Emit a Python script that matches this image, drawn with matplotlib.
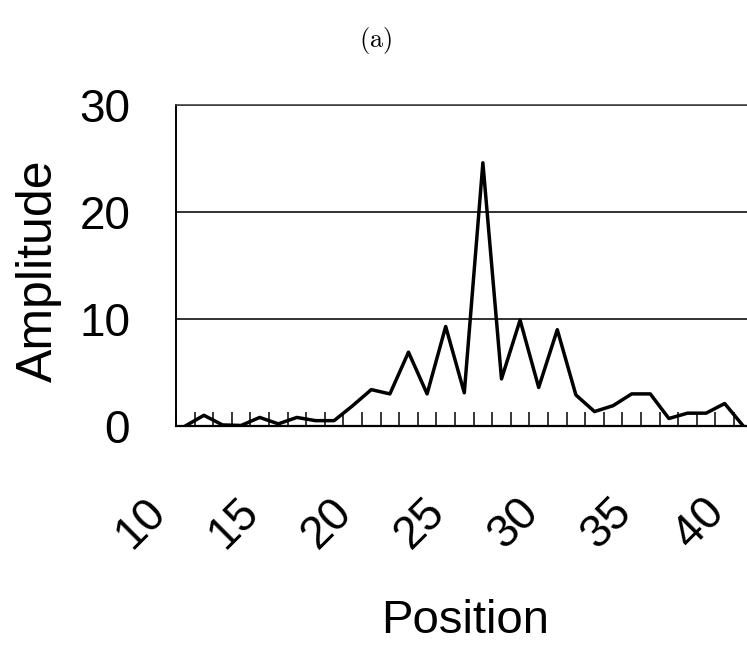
import numpy as np
import matplotlib
matplotlib.use("Agg")
import matplotlib.pyplot as plt
from matplotlib.transforms import ScaledTranslation

plt.rcParams['font.family'] = ['Liberation Sans', 'DejaVu Sans']
plt.rcParams['mathtext.fontset'] = 'cm'

# posiciones (puntos a mitad de cada division)
posicion = [10.5, 11.5, 12.5, 13.5, 14.5, 15.5, 16.5, 17.5, 18.5, 19.5,
            20.5, 21.5, 22.5, 23.5, 24.5, 25.5, 26.5, 27.5, 28.5, 29.5,
            30.5, 31.5, 32.5, 33.5, 34.5, 35.5, 36.5, 37.5, 38.5, 39.5, 40.5]
amplitud = [0.0, 1.0, 0.1, 0.05, 0.8, 0.2, 0.8, 0.5, 0.5, 1.9,
            3.4, 3.0, 6.9, 3.0, 9.3, 3.1, 24.6, 4.4, 9.9, 3.6,
            9.0, 2.9, 1.35, 1.9, 3.0, 3.0, 0.7, 1.2, 1.2, 2.1, 0.0]

xticks = [10, 15, 20, 25, 30, 35, 40]
xticklabels = ['10', '15', '20', '25', '30', '35', '40']
yticks = [0, 10, 20, 30]

W, H = 747, 648
fig = plt.figure(figsize=(W / 100, H / 100), dpi=100)
ax = fig.add_axes([176 / W, (H - 426) / H, 1 - 176 / W, (426 - 105) / H])

ax.plot(posicion, amplitud, color='black', linewidth=2.5, zorder=3)

ax.set_xlim(10, 40.7)
ax.set_ylim(0, 30)

# --- rejilla horizontal ---
ax.set_yticks(yticks)
ax.yaxis.grid(True, color='#222222', linewidth=1.3)
ax.set_axisbelow(True)

# --- ejes ---
ax.spines['right'].set_visible(False)
ax.spines['top'].set_linewidth(1.2)
ax.spines['top'].set_color('#444444')
ax.spines['left'].set_linewidth(1.4)
ax.spines['bottom'].set_linewidth(1.6)

ax.tick_params(axis='y', length=0, pad=33, labelsize=33)
ax.set_xticks(xticks)
ax.set_xticks(np.arange(11, 41), minor=True)
ax.set_xticklabels(xticklabels, rotation=45, ha='right', va='top')
ax.tick_params(axis='x', which='both', direction='in', length=10, width=1.1)
ax.tick_params(axis='x', which='major', pad=46, labelsize=33)

offset = ScaledTranslation(-1 / 100, 0, fig.dpi_scale_trans)
for lbl in ax.get_xticklabels():
    lbl.set_transform(lbl.get_transform() + offset)

# --- etiquetas ---
fig.text(62 / W, (H - 271) / H, 'Amplitude', rotation=90, fontsize=36,
         ha='right', va='center')
fig.text(465 / W, (H - 599) / H, 'Position', fontsize=34, ha='center', va='top')
fig.text(376 / W, (H - 40) / H, r'$\mathrm{(a)}$', fontsize=19,
         ha='center', va='center')

fig.savefig('out.png', dpi=100)
